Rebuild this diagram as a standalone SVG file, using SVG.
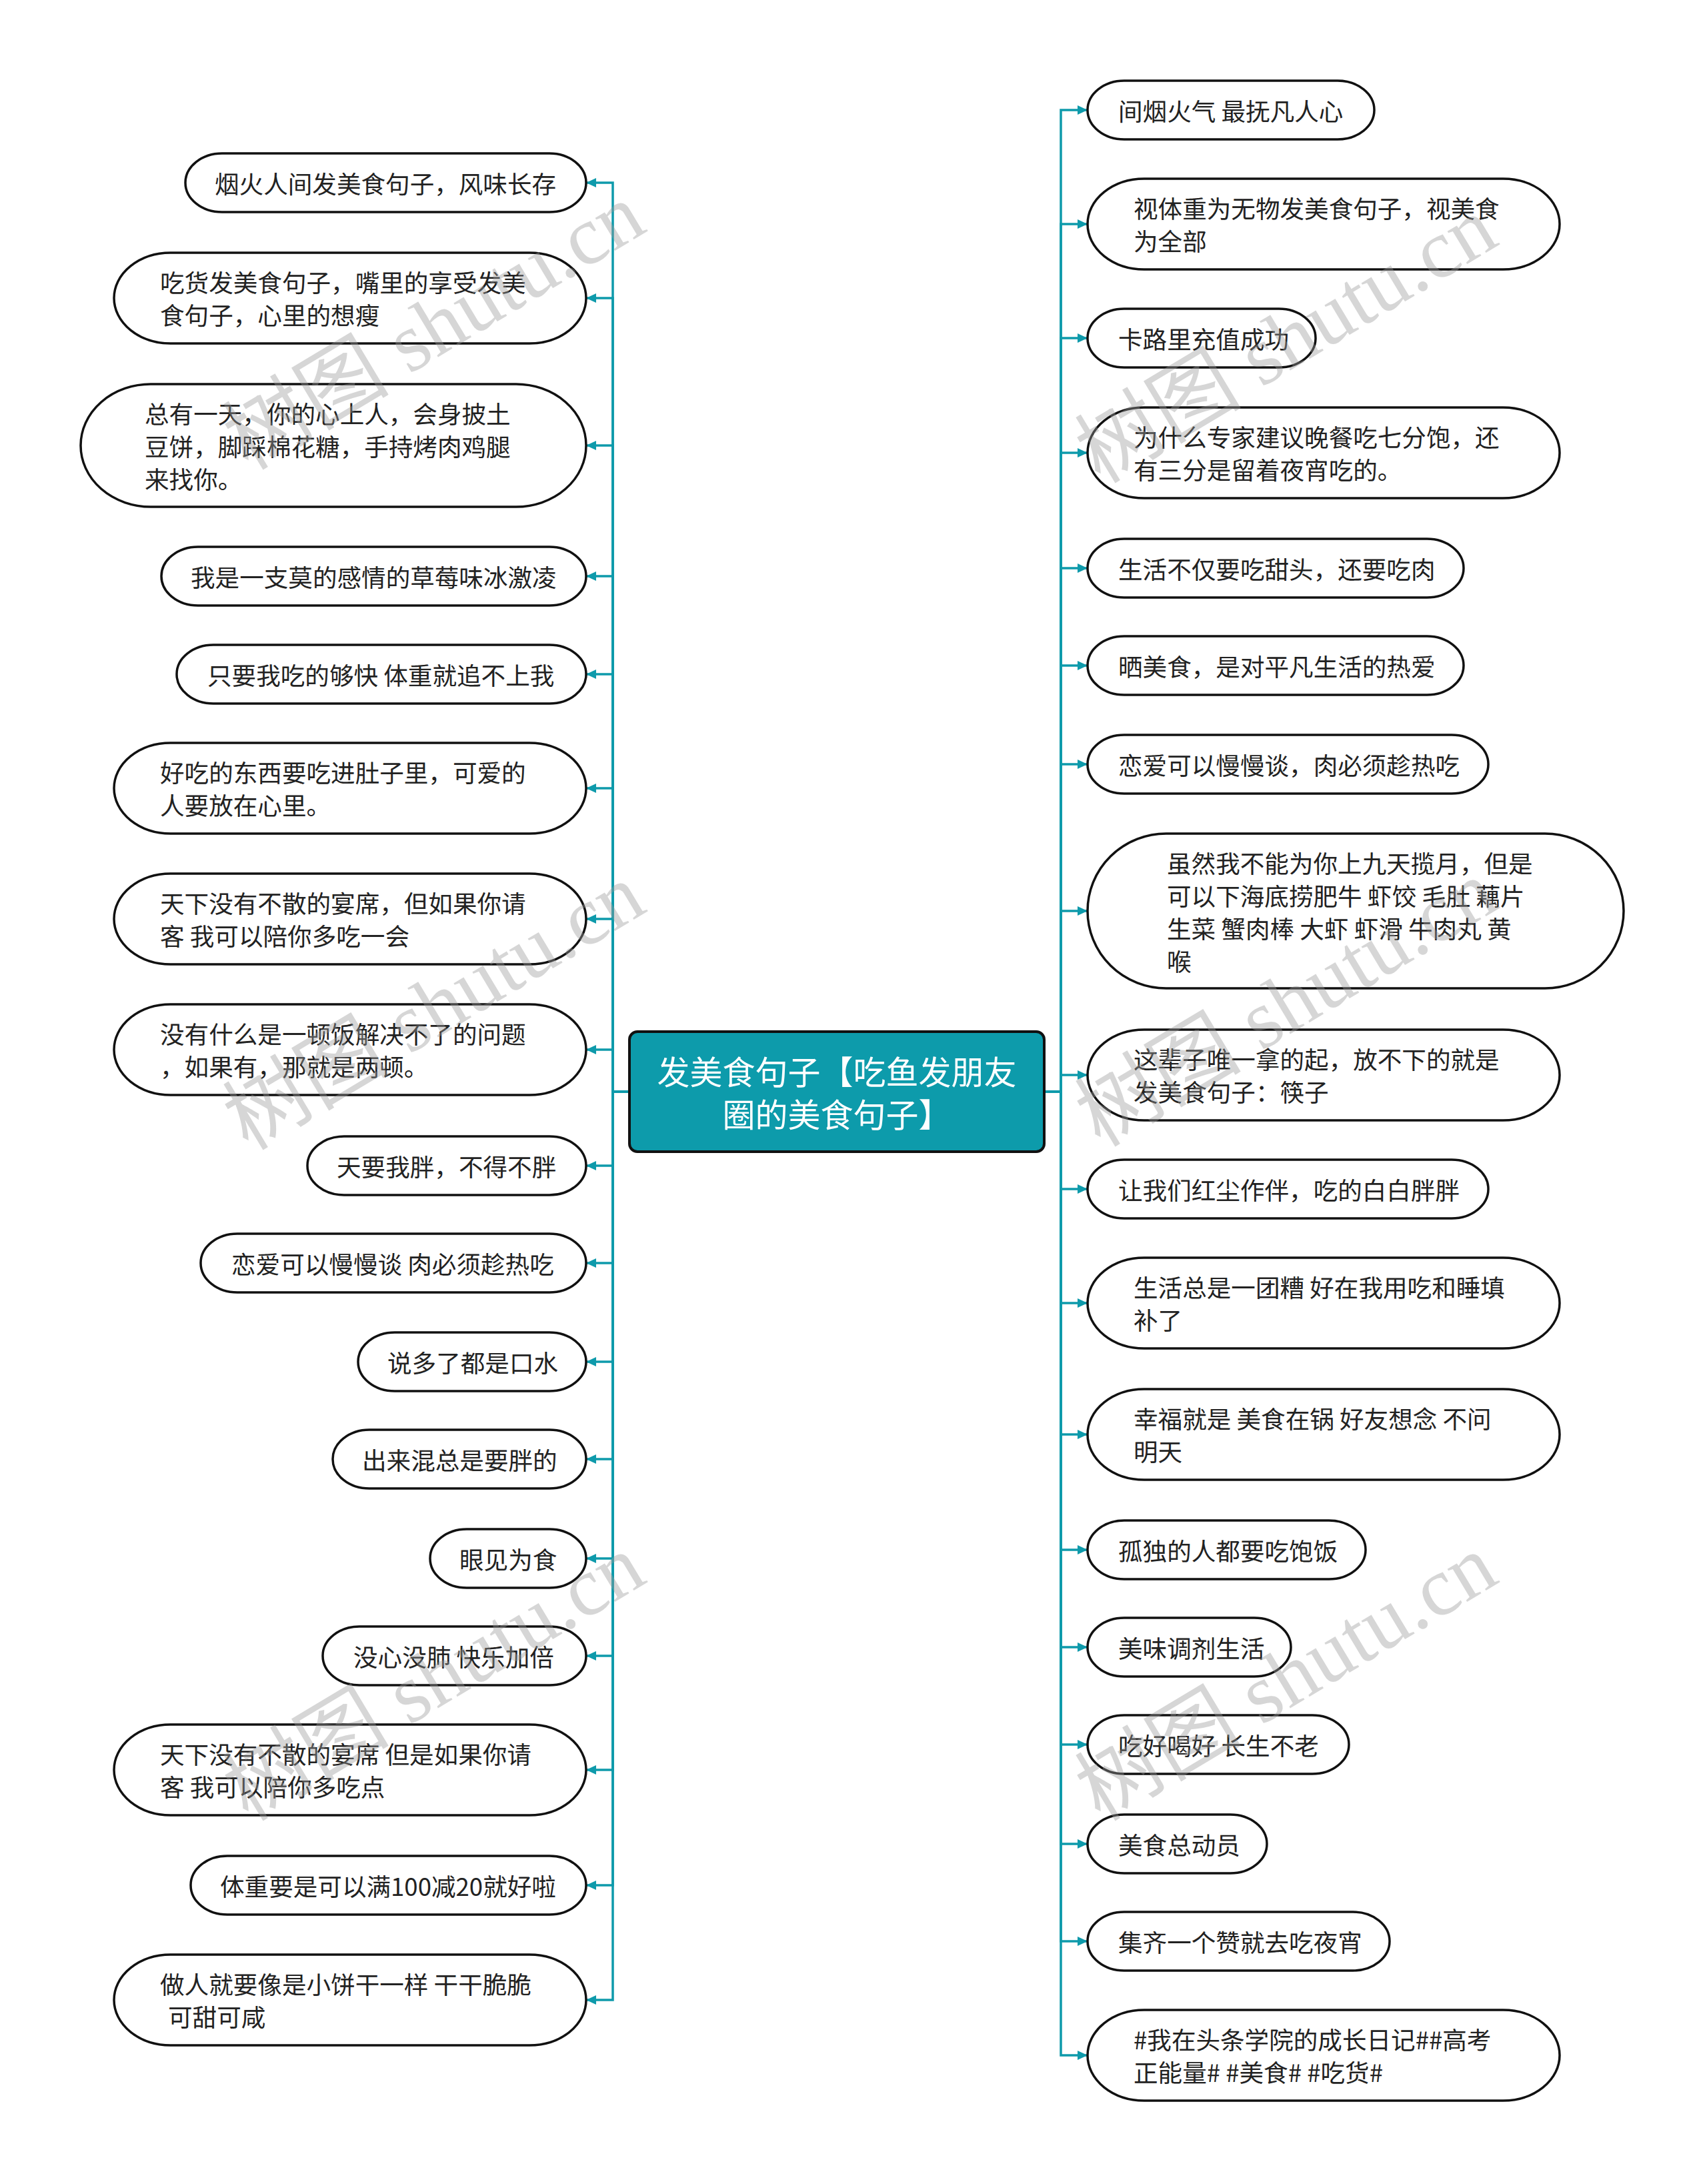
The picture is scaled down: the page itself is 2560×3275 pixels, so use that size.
<svg xmlns="http://www.w3.org/2000/svg" width="2560" height="3275" viewBox="0 0 2560 3275">
<defs>
<marker id="arr" markerUnits="userSpaceOnUse" markerWidth="16" markerHeight="16" refX="15" refY="8" orient="auto">
<path d="M0,1 L15,8 L0,15 z" fill="#0E9AAB"/>
</marker>
<style>
.n{fill:#fff;stroke:#111;stroke-width:3.5}
.t{font-family:"Noto Sans CJK SC","Noto Sans",sans-serif;font-size:36.6px;fill:#222;dominant-baseline:central}
.c{fill:none;stroke:#0E9AAB;stroke-width:3.5;marker-end:url(#arr)}
.ct{font-family:"Noto Sans CJK SC","Noto Sans",sans-serif;font-size:49px;fill:#fff;dominant-baseline:central;text-anchor:middle}
.wm{font-family:"Liberation Serif","Noto Sans CJK SC",serif;font-size:125px;fill:#9a9a9a;opacity:0.4;text-anchor:middle;dominant-baseline:central}
</style>
</defs>
<rect width="2560" height="3275" fill="#fff"/>
<g id="connectors">
<path class="c" d="M944,1637 H919 V274 H879"/>
<path class="c" d="M944,1637 H919 V447 H879"/>
<path class="c" d="M944,1637 H919 V668 H879"/>
<path class="c" d="M944,1637 H919 V864 H879"/>
<path class="c" d="M944,1637 H919 V1011 H879"/>
<path class="c" d="M944,1637 H919 V1182 H879"/>
<path class="c" d="M944,1637 H919 V1378 H879"/>
<path class="c" d="M944,1637 H919 V1574 H879"/>
<path class="c" d="M944,1637 H919 V1748 H879"/>
<path class="c" d="M944,1637 H919 V1894 H879"/>
<path class="c" d="M944,1637 H919 V2042 H879"/>
<path class="c" d="M944,1637 H919 V2188 H879"/>
<path class="c" d="M944,1637 H919 V2337 H879"/>
<path class="c" d="M944,1637 H919 V2483 H879"/>
<path class="c" d="M944,1637 H919 V2654 H879"/>
<path class="c" d="M944,1637 H919 V2827 H879"/>
<path class="c" d="M944,1637 H919 V2999 H879"/>
<path class="c" d="M1566,1637 H1591 V165 H1631"/>
<path class="c" d="M1566,1637 H1591 V336 H1631"/>
<path class="c" d="M1566,1637 H1591 V507 H1631"/>
<path class="c" d="M1566,1637 H1591 V679 H1631"/>
<path class="c" d="M1566,1637 H1591 V852 H1631"/>
<path class="c" d="M1566,1637 H1591 V998 H1631"/>
<path class="c" d="M1566,1637 H1591 V1146 H1631"/>
<path class="c" d="M1566,1637 H1591 V1366 H1631"/>
<path class="c" d="M1566,1637 H1591 V1612 H1631"/>
<path class="c" d="M1566,1637 H1591 V1783 H1631"/>
<path class="c" d="M1566,1637 H1591 V1954 H1631"/>
<path class="c" d="M1566,1637 H1591 V2151 H1631"/>
<path class="c" d="M1566,1637 H1591 V2324 H1631"/>
<path class="c" d="M1566,1637 H1591 V2470 H1631"/>
<path class="c" d="M1566,1637 H1591 V2616 H1631"/>
<path class="c" d="M1566,1637 H1591 V2765 H1631"/>
<path class="c" d="M1566,1637 H1591 V2911 H1631"/>
<path class="c" d="M1566,1637 H1591 V3082 H1631"/>
</g>
<g id="center">
<rect x="944" y="1547" width="622" height="180" rx="12" fill="#0D9BAB" stroke="#111" stroke-width="4"/>
<text class="ct" x="1255" y="1604">发美食句子【吃鱼发朋友</text>
<text class="ct" x="1255" y="1668">圈的美食句子】</text>
</g>
<g id="L1"><rect class="n" x="278" y="230" width="601" height="88" rx="55" ry="44"/><text class="t" x="322" y="274">烟火人间发美食句子，风味长存</text></g>
<g id="L2"><rect class="n" x="171" y="379" width="708" height="136" rx="85" ry="68"/><text class="t" x="240" y="422">吃货发美食句子，嘴里的享受发美</text><text class="t" x="240" y="471">食句子，心里的想瘦</text></g>
<g id="L3"><rect class="n" x="121" y="576" width="758" height="184" rx="105" ry="92"/><text class="t" x="217" y="619">总有一天，你的心上人，会身披土</text><text class="t" x="217" y="668">豆饼，脚踩棉花糖，手持烤肉鸡腿</text><text class="t" x="217" y="717">来找你。</text></g>
<g id="L4"><rect class="n" x="242" y="820" width="637" height="88" rx="55" ry="44"/><text class="t" x="286" y="864">我是一支莫的感情的草莓味冰激凌</text></g>
<g id="L5"><rect class="n" x="265" y="967" width="614" height="88" rx="55" ry="44"/><text class="t" x="311" y="1011">只要我吃的够快 体重就追不上我</text></g>
<g id="L6"><rect class="n" x="171" y="1114" width="708" height="136" rx="85" ry="68"/><text class="t" x="240" y="1157">好吃的东西要吃进肚子里，可爱的</text><text class="t" x="240" y="1206">人要放在心里。</text></g>
<g id="L7"><rect class="n" x="171" y="1310" width="708" height="136" rx="85" ry="68"/><text class="t" x="240" y="1353">天下没有不散的宴席，但如果你请</text><text class="t" x="240" y="1402">客 我可以陪你多吃一会</text></g>
<g id="L8"><rect class="n" x="171" y="1506" width="708" height="136" rx="85" ry="68"/><text class="t" x="240" y="1549">没有什么是一顿饭解决不了的问题</text><text class="t" x="240" y="1598">，如果有，那就是两顿。</text></g>
<g id="L9"><rect class="n" x="461" y="1704" width="418" height="88" rx="55" ry="44"/><text class="t" x="505" y="1748">天要我胖，不得不胖</text></g>
<g id="L10"><rect class="n" x="301" y="1850" width="578" height="88" rx="55" ry="44"/><text class="t" x="347" y="1894">恋爱可以慢慢谈 肉必须趁热吃</text></g>
<g id="L11"><rect class="n" x="537" y="1998" width="342" height="88" rx="55" ry="44"/><text class="t" x="581" y="2042">说多了都是口水</text></g>
<g id="L12"><rect class="n" x="499" y="2144" width="380" height="88" rx="55" ry="44"/><text class="t" x="543" y="2188">出来混总是要胖的</text></g>
<g id="L13"><rect class="n" x="645" y="2293" width="234" height="88" rx="55" ry="44"/><text class="t" x="689" y="2337">眼见为食</text></g>
<g id="L14"><rect class="n" x="484" y="2439" width="395" height="88" rx="55" ry="44"/><text class="t" x="530" y="2483">没心没肺 快乐加倍</text></g>
<g id="L15"><rect class="n" x="171" y="2586" width="708" height="136" rx="85" ry="68"/><text class="t" x="240" y="2629">天下没有不散的宴席 但是如果你请</text><text class="t" x="240" y="2678">客 我可以陪你多吃点</text></g>
<g id="L16"><rect class="n" x="286" y="2783" width="593" height="88" rx="55" ry="44"/><text class="t" x="330" y="2827">体重要是可以满100减20就好啦</text></g>
<g id="L17"><rect class="n" x="171" y="2931" width="708" height="136" rx="85" ry="68"/><text class="t" x="240" y="2974">做人就要像是小饼干一样 干干脆脆</text><text class="t" x="252" y="3023">可甜可咸</text></g>
<g id="R1"><rect class="n" x="1631" y="121" width="430" height="88" rx="55" ry="44"/><text class="t" x="1677" y="165">间烟火气 最抚凡人心</text></g>
<g id="R2"><rect class="n" x="1631" y="268" width="708" height="136" rx="85" ry="68"/><text class="t" x="1700" y="311">视体重为无物发美食句子，视美食</text><text class="t" x="1700" y="360">为全部</text></g>
<g id="R3"><rect class="n" x="1631" y="463" width="342" height="88" rx="55" ry="44"/><text class="t" x="1677" y="507">卡路里充值成功</text></g>
<g id="R4"><rect class="n" x="1631" y="611" width="708" height="136" rx="85" ry="68"/><text class="t" x="1700" y="654">为什么专家建议晚餐吃七分饱，还</text><text class="t" x="1700" y="703">有三分是留着夜宵吃的。</text></g>
<g id="R5"><rect class="n" x="1631" y="808" width="564" height="88" rx="55" ry="44"/><text class="t" x="1677" y="852">生活不仅要吃甜头，还要吃肉</text></g>
<g id="R6"><rect class="n" x="1631" y="954" width="564" height="88" rx="55" ry="44"/><text class="t" x="1677" y="998">晒美食，是对平凡生活的热爱</text></g>
<g id="R7"><rect class="n" x="1631" y="1102" width="601" height="88" rx="55" ry="44"/><text class="t" x="1677" y="1146">恋爱可以慢慢谈，肉必须趁热吃</text></g>
<g id="R8"><rect class="n" x="1631" y="1250" width="804" height="232" rx="118" ry="116"/><text class="t" x="1750" y="1293">虽然我不能为你上九天揽月，但是</text><text class="t" x="1750" y="1342">可以下海底捞肥牛 虾饺 毛肚 藕片</text><text class="t" x="1750" y="1391">生菜 蟹肉棒 大虾 虾滑 牛肉丸 黄</text><text class="t" x="1750" y="1440">喉</text></g>
<g id="R9"><rect class="n" x="1631" y="1544" width="708" height="136" rx="85" ry="68"/><text class="t" x="1700" y="1587">这辈子唯一拿的起，放不下的就是</text><text class="t" x="1700" y="1636">发美食句子：筷子</text></g>
<g id="R10"><rect class="n" x="1631" y="1739" width="601" height="88" rx="55" ry="44"/><text class="t" x="1677" y="1783">让我们红尘作伴，吃的白白胖胖</text></g>
<g id="R11"><rect class="n" x="1631" y="1886" width="708" height="136" rx="85" ry="68"/><text class="t" x="1700" y="1929">生活总是一团糟 好在我用吃和睡填</text><text class="t" x="1700" y="1978">补了</text></g>
<g id="R12"><rect class="n" x="1631" y="2083" width="708" height="136" rx="85" ry="68"/><text class="t" x="1700" y="2126">幸福就是 美食在锅 好友想念 不问</text><text class="t" x="1700" y="2175">明天</text></g>
<g id="R13"><rect class="n" x="1631" y="2280" width="417" height="88" rx="55" ry="44"/><text class="t" x="1677" y="2324">孤独的人都要吃饱饭</text></g>
<g id="R14"><rect class="n" x="1631" y="2426" width="305" height="88" rx="55" ry="44"/><text class="t" x="1677" y="2470">美味调剂生活</text></g>
<g id="R15"><rect class="n" x="1631" y="2572" width="392" height="88" rx="55" ry="44"/><text class="t" x="1677" y="2616">吃好喝好 长生不老</text></g>
<g id="R16"><rect class="n" x="1631" y="2721" width="269" height="88" rx="55" ry="44"/><text class="t" x="1677" y="2765">美食总动员</text></g>
<g id="R17"><rect class="n" x="1631" y="2867" width="453" height="88" rx="55" ry="44"/><text class="t" x="1677" y="2911">集齐一个赞就去吃夜宵</text></g>
<g id="R18"><rect class="n" x="1631" y="3014" width="708" height="136" rx="85" ry="68"/><text class="t" x="1700" y="3057">#我在头条学院的成长日记##高考</text><text class="t" x="1700" y="3106">正能量# #美食# #吃货#</text></g>
<g id="watermarks">
<text class="wm" transform="translate(651,490) rotate(-31)">树图 shutu.cn</text>
<text class="wm" transform="translate(651,1510) rotate(-31)">树图 shutu.cn</text>
<text class="wm" transform="translate(651,2516) rotate(-31)">树图 shutu.cn</text>
<text class="wm" transform="translate(1929,510) rotate(-31)">树图 shutu.cn</text>
<text class="wm" transform="translate(1929,1505) rotate(-31)">树图 shutu.cn</text>
<text class="wm" transform="translate(1929,2516) rotate(-31)">树图 shutu.cn</text>
</g>
</svg>
